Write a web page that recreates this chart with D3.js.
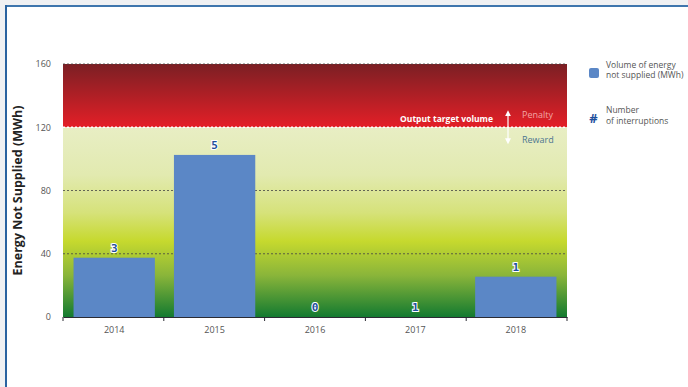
<!DOCTYPE html>
<html>
<head>
<meta charset="utf-8">
<script src="https://cdn.jsdelivr.net/npm/d3@7"></script>
<style>
  html, body { margin: 0; padding: 0; background: #f0f1f3; }
  svg { display: block; font-family: "Open Sans", sans-serif; }
</style>
</head>
<body>
<svg id="canvas"></svg>
<script>
// data
const years = ["2014", "2015", "2016", "2017", "2018"];
const energy = [37.5, 102.5, 0, 0, 25.5];      // MWh not supplied
const interruptions = [3, 5, 0, 1, 1];
const yTicks = [0, 40, 80, 120, 160];
const targetVolume = 120;

const width = 688;
const height = 387;
const svg = d3.select("#canvas").attr("width", width).attr("height", height);

// white panel with blue top / left edge
svg.append("rect").attr("x", 5).attr("y", 5).attr("width", width - 5).attr("height", height - 5).attr("fill", "#fff");
svg.append("rect").attr("x", 5).attr("y", 5).attr("width", width - 5).attr("height", 2).attr("fill", "#3f76ad");
svg.append("rect").attr("x", 5).attr("y", 5).attr("width", 2).attr("height", height - 5).attr("fill", "#2a63a0");

const marginLeft = 63, marginRight = 567, marginTop = 64, marginBottom = 317;

const x = d3.scaleBand()
    .domain(years)
    .range([marginLeft, marginRight])
    .paddingInner(0.19)
    .paddingOuter(0.105);

const y = d3.scaleLinear()
    .domain([0, 160])
    .range([marginBottom, marginTop]);

// background gradients
const defs = svg.append("defs");
const redGrad = defs.append("linearGradient").attr("id", "red").attr("x1", 0).attr("x2", 0).attr("y1", 0).attr("y2", 1);
redGrad.append("stop").attr("offset", "0%").attr("stop-color", "#7b1f24");
redGrad.append("stop").attr("offset", "100%").attr("stop-color", "#e41f27");

const greenGrad = defs.append("linearGradient").attr("id", "green").attr("x1", 0).attr("x2", 0).attr("y1", 0).attr("y2", 1);
greenGrad.append("stop").attr("offset", "0%").attr("stop-color", "#e8eec4");
greenGrad.append("stop").attr("offset", "25%").attr("stop-color", "#e2eab0");
greenGrad.append("stop").attr("offset", "45%").attr("stop-color", "#d6e27a");
greenGrad.append("stop").attr("offset", "60%").attr("stop-color", "#c6d92e");
greenGrad.append("stop").attr("offset", "78%").attr("stop-color", "#8ab53a");
greenGrad.append("stop").attr("offset", "100%").attr("stop-color", "#137a30");

svg.append("rect")
    .attr("x", marginLeft).attr("y", y(160))
    .attr("width", marginRight - marginLeft).attr("height", y(targetVolume) - y(160))
    .attr("fill", "url(#red)");
svg.append("rect")
    .attr("x", marginLeft).attr("y", y(targetVolume))
    .attr("width", marginRight - marginLeft).attr("height", y(0) - y(targetVolume))
    .attr("fill", "url(#green)");

// grid lines
svg.append("g")
    .selectAll("line")
    .data([40, 80, 160])
    .join("line")
    .attr("x1", marginLeft).attr("x2", marginRight)
    .attr("y1", d => y(d)).attr("y2", d => y(d))
    .attr("stroke", "#444")
    .attr("stroke-width", 0.8)
    .attr("stroke-dasharray", "2 2");

svg.append("line")
    .attr("x1", marginLeft).attr("x2", marginRight)
    .attr("y1", y(targetVolume)).attr("y2", y(targetVolume))
    .attr("stroke", "#fff")
    .attr("stroke-width", 1.5)
    .attr("stroke-dasharray", "2 2");

// bars
svg.append("g")
    .selectAll("rect")
    .data(energy)
    .join("rect")
    .attr("x", (d, i) => x(years[i]))
    .attr("y", d => y(d))
    .attr("width", x.bandwidth())
    .attr("height", d => y(0) - y(d))
    .attr("fill", "#5b87c6");

// interruption counts
svg.append("g")
    .selectAll("text")
    .data(interruptions)
    .join("text")
    .attr("x", (d, i) => x(years[i]) + x.bandwidth() / 2)
    .attr("y", (d, i) => y(energy[i]) - 6)
    .attr("text-anchor", "middle")
    .attr("font-family", "'DejaVu Sans Mono', monospace")
    .attr("font-size", 11)
    .attr("font-weight", "bold")
    .attr("fill", "#1d4f9c")
    .attr("stroke", "#fff")
    .attr("stroke-width", 2)
    .attr("paint-order", "stroke")
    .text(d => d);

// x axis
const xAxis = svg.append("g")
    .attr("transform", `translate(0,${marginBottom})`)
    .call(d3.axisBottom(x).tickSize(0).tickPadding(10));
xAxis.select(".domain").attr("stroke", "#2b2b33").attr("stroke-width", 1.2);
xAxis.selectAll("text").attr("font-size", 9).attr("fill", "#555").attr("font-family", "'Open Sans', sans-serif");
xAxis.selectAll(".boundary")
    .data(d3.range(years.length + 1))
    .join("line")
    .attr("class", "boundary")
    .attr("x1", i => marginLeft + i * (marginRight - marginLeft) / years.length)
    .attr("x2", i => marginLeft + i * (marginRight - marginLeft) / years.length)
    .attr("y1", 0).attr("y2", 4)
    .attr("stroke", "#2b2b33");

// y axis
const yAxis = svg.append("g")
    .attr("transform", `translate(${marginLeft},0)`)
    .call(d3.axisLeft(y).tickValues(yTicks).tickSize(0).tickPadding(12));
yAxis.select(".domain").remove();
yAxis.selectAll("text").attr("font-size", 9).attr("fill", "#555").attr("font-family", "'Open Sans', sans-serif");

svg.append("text")
    .attr("transform", `translate(22,${(marginTop + marginBottom) / 2}) rotate(-90)`)
    .attr("text-anchor", "middle")
    .attr("font-size", 12.5)
    .attr("font-weight", "bold")
    .attr("fill", "#222")
    .text("Energy Not Supplied (MWh)");

// target annotation
svg.append("text")
    .attr("x", 493).attr("y", y(targetVolume) - 5)
    .attr("text-anchor", "end")
    .attr("font-size", 8.5)
    .attr("font-weight", "bold")
    .attr("fill", "#fff")
    .text("Output target volume");

defs.append("marker")
    .attr("id", "arrow")
    .attr("viewBox", "0 0 10 10")
    .attr("refX", 5).attr("refY", 5)
    .attr("markerWidth", 5).attr("markerHeight", 5)
    .attr("orient", "auto-start-reverse")
    .append("path")
    .attr("d", "M0,0L10,5L0,10Z")
    .attr("fill", "#fff");

svg.append("line")
    .attr("x1", 508).attr("x2", 508)
    .attr("y1", y(targetVolume) - 14).attr("y2", y(targetVolume) + 14)
    .attr("stroke", "#fff")
    .attr("stroke-width", 1.2)
    .attr("marker-start", "url(#arrow)")
    .attr("marker-end", "url(#arrow)");

svg.append("text")
    .attr("x", 522).attr("y", y(targetVolume) - 9)
    .attr("font-size", 9)
    .attr("fill", "#f3a5a5")
    .text("Penalty");
svg.append("text")
    .attr("x", 522).attr("y", y(targetVolume) + 16)
    .attr("font-size", 9)
    .attr("fill", "#4d7590")
    .text("Reward");

// legend
svg.append("rect")
    .attr("x", 589).attr("y", 68)
    .attr("width", 10).attr("height", 10)
    .attr("rx", 2)
    .attr("fill", "#5b87c6");
svg.append("text")
    .attr("x", 606).attr("y", 68)
    .attr("font-size", 8.5)
    .attr("fill", "#555")
    .selectAll("tspan")
    .data(["Volume of energy", "not supplied (MWh)"])
    .join("tspan")
    .attr("x", 606)
    .attr("dy", (d, i) => i === 0 ? 0 : 10)
    .text(d => d);

svg.append("text")
    .attr("x", 593.5).attr("y", 123)
    .attr("text-anchor", "middle")
    .attr("font-size", 13)
    .attr("font-weight", "bold")
    .attr("fill", "#1d4f9c")
    .text("#");
svg.append("text")
    .attr("x", 606).attr("y", 113)
    .attr("font-size", 8.5)
    .attr("fill", "#555")
    .selectAll("tspan")
    .data(["Number", "of interruptions"])
    .join("tspan")
    .attr("x", 606)
    .attr("dy", (d, i) => i === 0 ? 0 : 11)
    .text(d => d);
</script>
</body>
</html>
